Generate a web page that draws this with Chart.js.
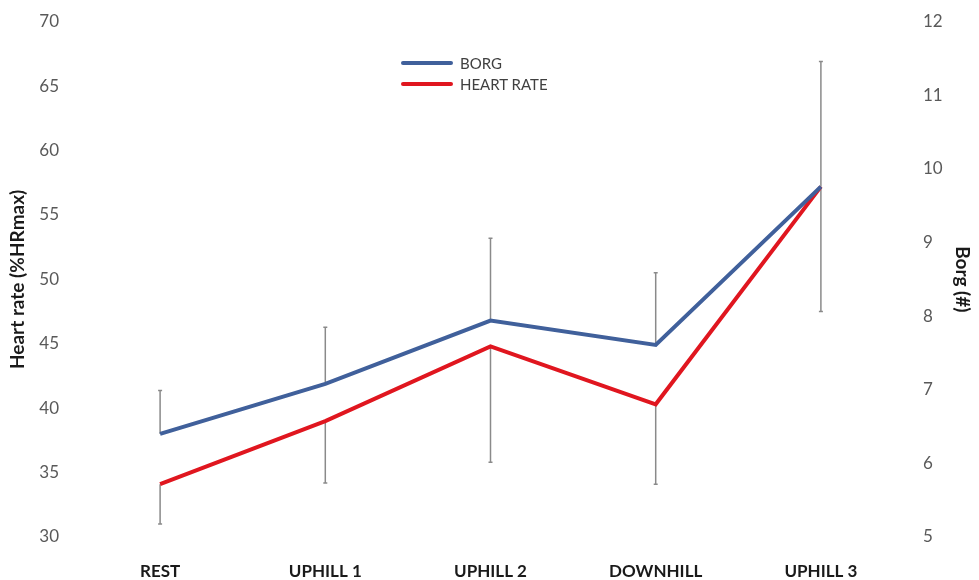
<!DOCTYPE html>
<html>
<head>
<meta charset="utf-8">
<script src="https://cdn.jsdelivr.net/npm/chart.js@4/dist/chart.umd.min.js"></script>
<style>
  html, body { margin: 0; padding: 0; background: #fff; }
  #wrap { position: relative; width: 979px; height: 580px; }
  #legend { position: absolute; left: 401px; top: 52px; font-family: Lato, sans-serif; font-size: 15px; color: #404040; }
  .leg-row { display: flex; align-items: center; height: 21px; }
  .leg-line { width: 52px; height: 4px; margin-right: 7px; border-radius: 2px; }
</style>
</head>
<body>
<div id="wrap">
  <canvas id="chart" width="979" height="580"></canvas>
  <div id="legend"></div>
</div>
<script>
// --- Data ---
const categories = ['REST', 'UPHILL 1', 'UPHILL 2', 'DOWNHILL', 'UPHILL 3'];
const borg = [6.4, 7.08, 7.94, 7.61, 9.76];
const borgHigh = [6.99, 7.85, 9.06, 8.59, 11.46];
const heartRate = [34.1, 39.0, 44.8, 40.3, 57.2];
const heartRateLow = [31.0, 34.2, 35.8, 34.1, 47.5];
const hrTicks = [30, 35, 40, 45, 50, 55, 60, 65, 70];
const borgTicks = [5, 6, 7, 8, 9, 10, 11, 12];

const BLUE = '#40609b';
const RED = '#e0161f';
const TICK_FONT = { family: 'Lato, sans-serif', size: 17 };
const TITLE_FONT = { family: 'Lato, sans-serif', size: 19, weight: 'bold' };

// error bars drawn behind the lines: borg goes up, heart rate goes down
const errorBars = {
    id: 'errorBars',
    beforeDatasetsDraw(chart) {
        const { ctx, scales } = chart;
        const x = scales.x, yHr = scales.y, yBorg = scales.y1;
        ctx.save();
        ctx.strokeStyle = '#8a8a8a';
        ctx.lineWidth = 1.5;
        categories.forEach((c, i) => {
            const px = x.getPixelForValue(i);
            const segs = [
                [yBorg.getPixelForValue(borg[i]), yBorg.getPixelForValue(borgHigh[i])],
                [yHr.getPixelForValue(heartRate[i]), yHr.getPixelForValue(heartRateLow[i])]
            ];
            segs.forEach(([a, b]) => {
                ctx.beginPath();
                ctx.moveTo(px, a);
                ctx.lineTo(px, b);
                ctx.moveTo(px - 2, b);
                ctx.lineTo(px + 2, b);
                ctx.stroke();
            });
        });
        ctx.restore();
    }
};

const chart = new Chart(document.getElementById('chart'), {
    type: 'line',
    data: {
        labels: categories,
        datasets: [
            { label: 'BORG', data: borg, yAxisID: 'y1', borderColor: BLUE, backgroundColor: BLUE, borderWidth: 4, pointRadius: 0, tension: 0 },
            { label: 'HEART RATE', data: heartRate, yAxisID: 'y', borderColor: RED, backgroundColor: RED, borderWidth: 4, pointRadius: 0, tension: 0 }
        ]
    },
    options: {
        responsive: false,
        animation: false,
        layout: { padding: { top: 10, left: 0, right: 0, bottom: 0 } },
        plugins: { legend: { display: false }, tooltip: { enabled: false } },
        scales: {
            x: {
                offset: true,
                grid: { display: false },
                border: { display: false },
                ticks: { color: '#1a1a1a', font: { family: 'Lato, sans-serif', size: 17, weight: 'bold' }, padding: 16, maxRotation: 0 },
                afterFit(s) { s.height = 43; }
            },
            y: {
                position: 'left',
                min: 30, max: 70,
                grid: { display: false },
                border: { display: false },
                afterBuildTicks(s) { s.ticks = hrTicks.map(v => ({ value: v })); },
                ticks: { color: '#595959', font: TICK_FONT, padding: 10.5 },
                title: { display: true, text: 'Heart rate (%HRmax)', color: '#1a1a1a', font: TITLE_FONT, padding: { top: 6, bottom: 0 } },
                afterFit(s) { s.width = 77.5; }
            },
            y1: {
                position: 'right',
                min: 5, max: 12,
                grid: { display: false },
                border: { display: false },
                afterBuildTicks(s) { s.ticks = borgTicks.map(v => ({ value: v })); },
                ticks: { color: '#595959', font: TICK_FONT, padding: 11.5 },
                title: { display: true, text: 'Borg (#)', color: '#1a1a1a', font: TITLE_FONT, padding: { top: 5, bottom: 0 } },
                afterFit(s) { s.width = 75.5; }
            }
        }
    },
    plugins: [errorBars]
});

// HTML legend, stacked like the original
document.getElementById('legend').innerHTML = chart.data.datasets.map(d => `
    <div class="leg-row"><div class="leg-line" style="background:${d.borderColor}"></div>${d.label}</div>
`).join('');
</script>
</body>
</html>
